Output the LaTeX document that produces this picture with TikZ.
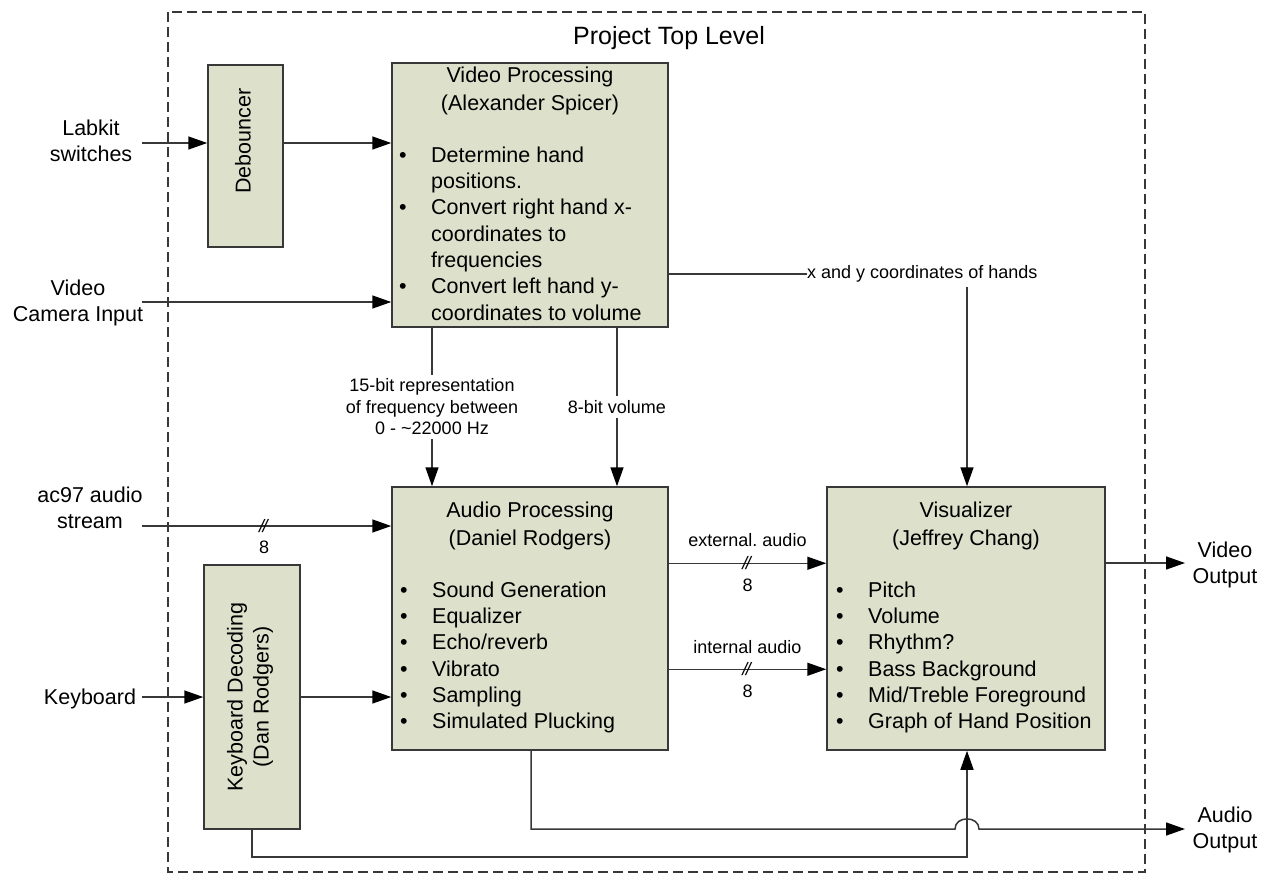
\documentclass[tikz,border=0pt]{standalone}
\usepackage{fontspec}
\setmainfont{Liberation Sans}
\usetikzlibrary{arrows.meta,calc}
\definecolor{boxfill}{HTML}{DDE0CB}
\definecolor{lc}{HTML}{383838}
\newcommand{\fsz}[2]{\fontsize{#1}{#2}\selectfont}
\newcommand{\bul}{\makebox[32pt][l]{\textbullet}}
\newcommand{\ind}{\hspace*{32pt}}
\newcommand{\fst}{\rule{0pt}{20pt}}
\newcommand{\slashes}{\textit{/\kern-1.5pt/}}
\frenchspacing
\begin{document}
\begin{tikzpicture}[x=1pt,y=-1pt,
 blk/.style={draw=lc, fill=boxfill, line width=1.5pt, inner sep=0pt},
 body/.style={font=\fsz{21.5}{26.3}, inner sep=0pt},
 ttl/.style={font=\fsz{21.5}{28}, inner sep=0pt, align=center, anchor=north},
 side/.style={font=\fsz{21.5}{26.5}, inner sep=0pt, align=center, anchor=north},
 lbl/.style={font=\fsz{18}{21.5}, inner sep=0pt},
 bus/.style={font=\fsz{18}{18}, inner sep=0pt, text=black},
 conn/.style={draw=lc, line width=1.5pt},
 arr/.style={conn, -{Triangle[length=19pt,width=13pt,color=black]}},
 frame/.style={draw=lc, line width=1.2pt, dash pattern=on 10pt off 5pt},
]
\useasboundingbox (0,0) rectangle (1270,884);

% frame and title
\draw[frame] (168,12) rectangle (1145,872);
\node[font=\fsz{25}{30}, inner sep=0pt] (title) at (669,38) {Project Top Level};

% blocks
\node[blk, minimum width=75pt, minimum height=182pt] (deb) at (245.5,156) {};
\node[body, rotate=90] (debt) at (243,141) {Debouncer};

\node[blk, minimum width=276pt, minimum height=264pt] (vp) at (530,195) {};
\node[ttl] (vpt) at (530,62) {\fst Video Processing\\(Alexander Spicer)};
\node[body, align=left, anchor=north west] (vpb) at (399,142)
 {\fst\bul Determine hand\\\ind positions.\\\bul Convert right hand x-\\\ind coordinates to\\\ind frequencies\\\bul Convert left hand y-\\\ind coordinates to volume};

\node[blk, minimum width=276pt, minimum height=263pt] (ap) at (530,618.5) {};
\node[ttl] (apt) at (530,497) {\fst Audio Processing\\(Daniel Rodgers)};
\node[body, align=left, anchor=north west] (apb) at (400,577)
 {\fst\bul Sound Generation\\\bul Equalizer\\\bul Echo/reverb\\\bul Vibrato\\\bul Sampling\\\bul Simulated Plucking};

\node[blk, minimum width=278pt, minimum height=263pt] (vis) at (966,618.5) {};
\node[ttl] (vist) at (966,497) {\fst Visualizer\\(Jeffrey Chang)};
\node[body, align=left, anchor=north west] (visb) at (836,577)
 {\fst\bul Pitch\\\bul Volume\\\bul Rhythm?\\\bul Bass Background\\\bul Mid/Treble Foreground\\\bul Graph of Hand Position};

\node[blk, minimum width=96pt, minimum height=264pt] (kd) at (252,697) {};
\node[font=\fsz{21.5}{26}, inner sep=0pt, align=center, rotate=90] (kdt) at (250,697) {Keyboard Decoding\\(Dan Rodgers)};

% outside labels
\node[side] (lab) at (91,115) {\fst Labkit\\switches};
\node[side] (cam) at (78,275) {\fst Video\\Camera Input};
\node[side] (ac) at (90,482) {\fst ac97 audio\\stream};
\node[body, anchor=base] (kb) at (90,704) {Keyboard};
\node[side] (vo) at (1225,537) {\fst Video\\Output};
\node[side] (ao) at (1225,802) {\fst Audio\\Output};

% free ends
\coordinate (labin) at (142,143);
\coordinate (camin) at (142,302);
\coordinate (acin) at (142,526);
\coordinate (kbin) at (142,697);
\coordinate (vout) at (1185,563);
\coordinate (aout) at (1185,829);

% inputs
\draw[arr] (labin) -- (labin -| deb.west);
\draw[arr] (labin -| deb.east) -- (labin -| vp.west);
\draw[arr] (camin) -- (camin -| vp.west);
\draw[arr] (acin) -- node[bus, pos=0.49] (bm1) {\slashes} node[lbl, pos=0.49, below=14pt] (b1) {8} (acin -| ap.west);
\draw[arr] (kbin) -- (kbin -| kd.west);
\draw[arr] (kd.east) -- (kd.east -| ap.west);

% video processing outputs
\node[lbl, anchor=west] (xy) at (807,274) {x and y coordinates of hands};
\draw[conn] (vp.east |- xy.west) -- (xy.west);
\draw[arr] ($(vis.north |- xy.west)+(1,13)$) -- ($(vis.north)+(1,0)$);

\node[lbl, align=center, inner ysep=4pt] (fr) at (432,407) {15-bit representation\\of frequency between\\0 - \textasciitilde 22000 Hz};
\draw[conn] (vp.south -| fr.north) -- (fr.north);
\draw[arr] (fr.south) -- (ap.north -| fr.south);

\node[lbl, inner ysep=4pt] (vol) at (617,407) {8-bit volume};
\draw[conn] (vp.south -| vol.north) -- (vol.north);
\draw[arr] (vol.south) -- (ap.north -| vol.south);

% audio to visualizer
\draw[arr] ($(ap.north east)+(0,77)$) -- node[lbl, above=16pt] (extl) {external. audio} node[bus] (bm2) {\slashes} node[lbl, below=14.5pt] (b2) {8} ($(vis.north west)+(0,77)$);
\draw[arr] ($(ap.north east)+(0,183)$) -- node[lbl, above=15pt] (intl) {internal audio} node[bus] (bm3) {\slashes} node[lbl, below=14.5pt] (b3) {8} ($(vis.north west)+(0,183)$);

% outputs
\draw[arr] (vis.east |- vout) -- (vout);
\draw[arr] ($(ap.south)+(1,0)$) -- ($(ap.south |- aout)+(1,0)$) -- ($(vis.south |- aout)+(-11,0)$)
  .. controls +(0,-13.5) and +(0,-13.5) .. ($(vis.south |- aout)+(13,0)$) -- (aout);
\draw[arr] (kd.south) -- ++(0,27) -| ($(vis.south)+(1,0)$);
\end{tikzpicture}
\end{document}
